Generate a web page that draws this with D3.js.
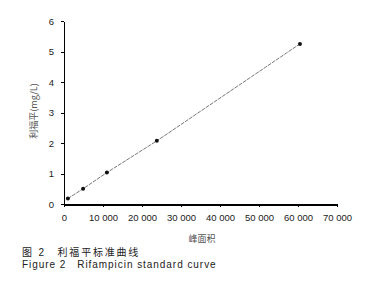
<!DOCTYPE html>
<html>
<head>
  <meta charset="utf-8" />
  <title>Rifampicin standard curve</title>
  <style>
    body { margin: 0; background: #fff; }
    #chartArea { width: 382px; height: 300px; }
    .axis path, .axis line { fill: none; stroke: #000; shape-rendering: crispEdges; }
    .axis text { font-family: "Liberation Sans", Arial, sans-serif; font-size: 9.5px; fill: #222; }
    .title { font-family: "Noto Sans CJK SC", sans-serif; font-size: 9px; fill: #555; }
    .caption { font-family: "Liberation Sans", "Noto Sans CJK SC", sans-serif; font-size: 10px; fill: #222; }
  </style>
  <script src="https://cdnjs.cloudflare.com/ajax/libs/d3/7.8.5/d3.min.js"></script>
</head>
<body>
  <div id="chartArea"></div>
  <script>
    var peakArea = [1000, 4900, 11000, 23800, 60500];
    var conc = [0.18, 0.5, 1.03, 2.07, 5.25];
    var xTicks = [0, 10000, 20000, 30000, 40000, 50000, 60000, 70000];
    var yTicks = [0, 1, 2, 3, 4, 5, 6];

    var dataset = peakArea.map((x, i) => ({ x: x, y: conc[i] }));

    var margin = { top: 21, left: 64 };
    var w = 273, h = 183;

    var root = d3.select('#chartArea').append('svg')
      .attr('width', 382)
      .attr('height', 300);
    var svg = root.append('g')
      .attr('transform', 'translate(' + margin.left + ',' + margin.top + ')');

    var xScale = d3.scaleLinear().domain([0, 70000]).range([0, w]);
    var yScale = d3.scaleLinear().domain([0, 6]).range([h, 0]);

    var xAxis = d3.axisBottom(xScale)
      .tickValues(xTicks)
      .tickFormat(d => d === 0 ? '0' : (d / 1000) + ' 000')
      .tickSizeInner(3)
      .tickSizeOuter(0)
      .tickPadding(7);
    var gx = svg.append('g')
      .attr('class', 'axis')
      .attr('transform', 'translate(0,' + h + ')')
      .call(xAxis);
    gx.select('.domain').attr('stroke-width', 2);

    var yAxis = d3.axisLeft(yScale)
      .tickValues(yTicks)
      .tickFormat(d3.format('d'))
      .tickSizeInner(3)
      .tickSizeOuter(0)
      .tickPadding(7);
    var gy = svg.append('g')
      .attr('class', 'axis')
      .call(yAxis);
    gy.select('.domain').attr('stroke-width', 1.5);

    // connecting line
    var line = d3.line().x(d => xScale(d.x)).y(d => yScale(d.y));
    svg.append('path')
      .datum(dataset)
      .attr('d', line)
      .attr('fill', 'none')
      .attr('stroke', '#555')
      .attr('stroke-width', 0.8)
      .attr('stroke-dasharray', '4,1');

    svg.selectAll('.dot')
      .data(dataset)
      .enter()
      .append('circle')
      .attr('class', 'dot')
      .attr('cx', d => xScale(d.x))
      .attr('cy', d => yScale(d.y))
      .attr('r', 2)
      .attr('fill', '#111');

    // axis titles
    root.append('text')
      .attr('class', 'title')
      .attr('x', 202)
      .attr('y', 242)
      .attr('text-anchor', 'middle')
      .text('峰面积');

    root.append('text')
      .attr('class', 'title')
      .attr('transform', 'translate(37,' + 111 + ') rotate(-90)')
      .attr('text-anchor', 'middle')
      .text('利福平(mg/L)');

    // figure caption
    root.append('text')
      .attr('class', 'caption')
      .attr('x', 22)
      .attr('y', 256)
      .attr('letter-spacing', 1.8)
      .text('图 2\u2003利福平标准曲线');
    root.append('text')
      .attr('class', 'caption')
      .attr('x', 22)
      .attr('y', 268)
      .attr('letter-spacing', 0.95)
      .text('Figure 2\u2003Rifampicin standard curve');
  </script>
</body>
</html>
